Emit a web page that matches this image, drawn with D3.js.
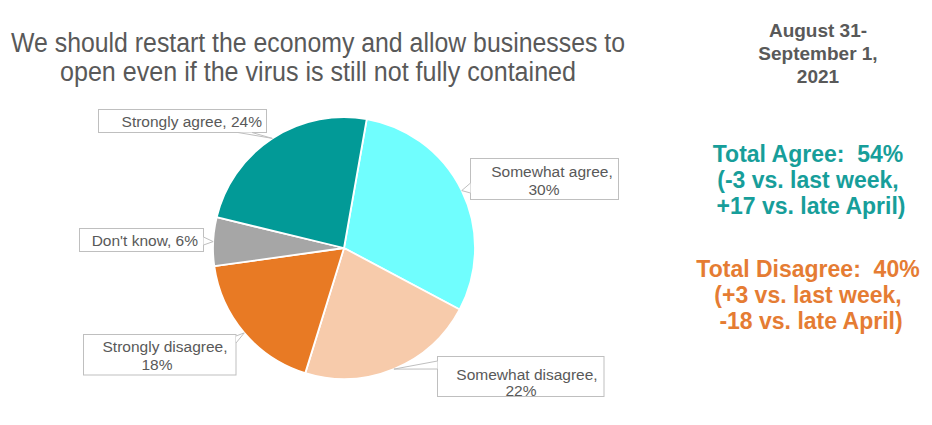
<!DOCTYPE html>
<html>
<head>
<meta charset="utf-8">
<script src="https://cdn.jsdelivr.net/npm/d3@7"></script>
<style>
  html, body { margin: 0; padding: 0; background: #ffffff; }
  svg { display: block; font-family: Arial, "Liberation Sans", sans-serif; }
  text { white-space: pre; }
</style>
</head>
<body>
<svg id="chart" width="932" height="425"></svg>
<script>
// ---- data ----
const categories = ["Somewhat agree", "Somewhat disagree", "Strongly disagree", "Don't know", "Strongly agree"];
const values = [30, 22, 18, 6, 24];
const titleLines = ["We should restart the economy and allow businesses to", "open even if the virus is still not fully contained"];
const dateLines = ["August 31-", "September 1,", "2021"];
const agreeLines = ["Total Agree:  54%", "(-3 vs. last week,", "+17 vs. late April)"];
const disagreeLines = ["Total Disagree:  40%", "(+3 vs. last week,", "-18 vs. late April)"];

// ---- styles ----
const palette = ["#70FEFE", "#F7CBAB", "#E87A24", "#A6A6A6", "#029A97"];
const color = d3.scaleOrdinal(categories, palette);
const textGray = "#595959";

const svg = d3.select("#chart");

// title
svg.append("g").selectAll("text").data(titleLines).join("text")
  .attr("x", 318)
  .attr("y", (d, i) => 52 + i * 29)
  .attr("text-anchor", "middle")
  .attr("font-size", 27)
  .attr("fill", textGray)
  .attr("textLength", (d, i) => i === 0 ? 614 : 516)
  .attr("lengthAdjust", "spacingAndGlyphs")
  .text(d => d);

// date
svg.append("g").selectAll("text").data(dateLines).join("text")
  .attr("x", 818)
  .attr("y", (d, i) => 37 + i * 23)
  .attr("text-anchor", "middle")
  .attr("font-size", 19)
  .attr("font-weight", "bold")
  .attr("fill", textGray)
  .text(d => d);

// totals
function block(lines, y0, fill) {
  svg.append("g").selectAll("text").data(lines).join("text")
    .attr("x", (d, i) => i === 2 ? 811 : 808)
    .attr("y", (d, i) => y0 + i * 26)
    .attr("text-anchor", "middle")
    .attr("font-size", 23)
    .attr("font-weight", "bold")
    .attr("fill", fill)
    .text(d => d);
}
block(agreeLines, 162, "#179E9A");
block(disagreeLines, 277, "#E57C33");

// pie
const cx = 344, cy = 248, r = 131;
const start = 10 * Math.PI / 180;
const pie = d3.pie().sort(null).value(d => d.v).startAngle(start).endAngle(start + 2 * Math.PI);
const data = categories.map((c, i) => ({ c, v: values[i] }));
const arcs = pie(data);
const arc = d3.arc().innerRadius(0).outerRadius(r);

const gPie = svg.append("g").attr("transform", `translate(${cx},${cy})`);
gPie.selectAll("path").data(arcs).join("path")
  .attr("d", arc)
  .attr("fill", d => color(d.data.c))
  .attr("stroke", "#ffffff")
  .attr("stroke-width", 1.8)
  .attr("stroke-linejoin", "round");

// callout layout (positions only)
const layout = {
  "Strongly agree":    { box: [98.5, 109.5, 168, 23], two: false, lines: [[262, 126.5, "end"]], base: [[238, 132.5], [252, 132.5]] },
  "Don't know":        { box: [79.5, 228.5, 124, 23], two: false, lines: [[198, 245.5, "end"]], base: [[203.5, 237], [203.5, 245]] },
  "Strongly disagree": { box: [83.5, 334.5, 152.5, 40.5], two: true, lines: [[165, 352, "middle"], [157, 370, "middle"]], base: [[236, 336], [236, 343]] },
  "Somewhat agree":    { box: [470.5, 158.5, 148, 41], two: true, lines: [[552, 176.5, "middle"], [544, 194.5, "middle"]], base: [[470.5, 183], [470.5, 193]] },
  "Somewhat disagree": { box: [437.5, 356.5, 166.5, 40], two: true, lines: [[527, 379.5, "middle"], [521, 395.5, "middle"]], base: [[437.5, 361], [437.5, 369]] }
};

const gLab = svg.append("g");
arcs.forEach(a => {
  const L = layout[a.data.c];
  const mid = (a.startAngle + a.endAngle) / 2;
  const tip = [cx + r * Math.sin(mid), cy - r * Math.cos(mid)];
  const [bx, by, bw, bh] = L.box;
  gLab.append("rect")
    .attr("x", bx).attr("y", by).attr("width", bw).attr("height", bh)
    .attr("fill", "#ffffff").attr("stroke", "#BFBFBF").attr("stroke-width", 1);
  const p = L.base;
  gLab.append("path")
    .attr("d", `M${p[0][0]},${p[0][1]}L${tip[0]},${tip[1]}L${p[1][0]},${p[1][1]}Z`)
    .attr("fill", "#ffffff").attr("stroke", "none");
  gLab.append("path")
    .attr("d", `M${p[0][0]},${p[0][1]}L${tip[0]},${tip[1]}L${p[1][0]},${p[1][1]}`)
    .attr("fill", "none").attr("stroke", "#BFBFBF").attr("stroke-width", 1);
  const texts = L.two ? [`${a.data.c},`, `${a.data.v}%`] : [`${a.data.c}, ${a.data.v}%`];
  texts.forEach((t, i) => {
    gLab.append("text")
      .attr("x", L.lines[i][0]).attr("y", L.lines[i][1])
      .attr("text-anchor", L.lines[i][2])
      .attr("font-size", 15.5)
      .attr("fill", textGray)
      .text(t);
  });
});
</script>
</body>
</html>
